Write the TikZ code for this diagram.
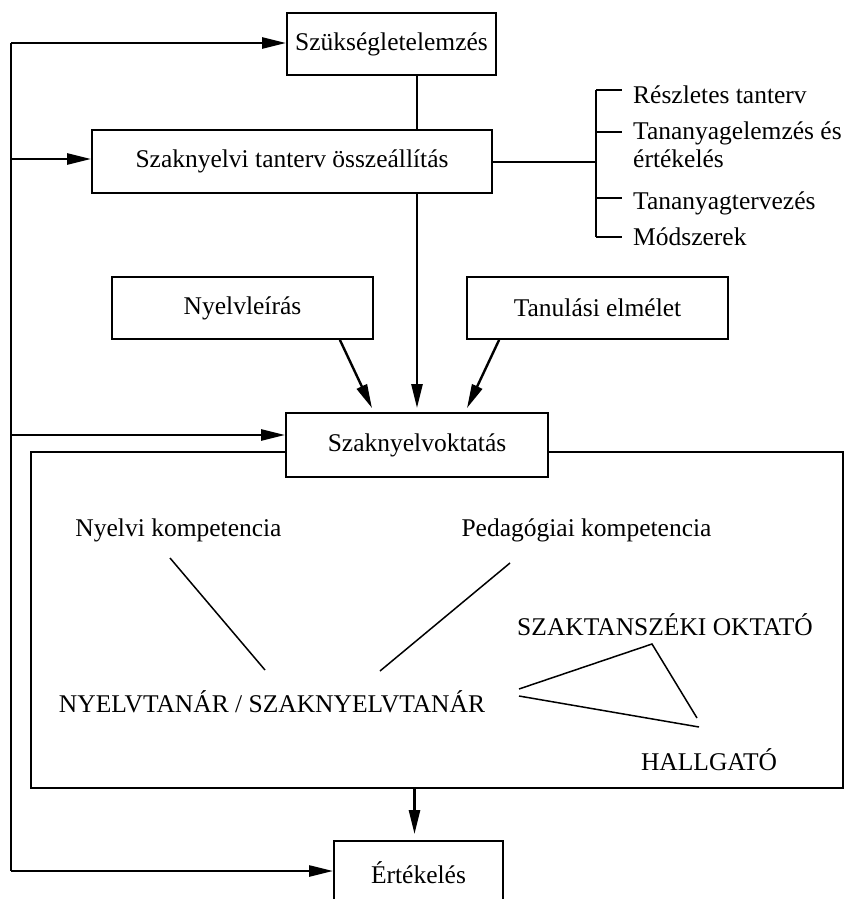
\documentclass[tikz,border=0pt]{standalone}
\usepackage{fontspec}
\setmainfont{Liberation Serif}
\usetikzlibrary{arrows.meta,calc}
\begin{document}
\begin{tikzpicture}[x=1pt,y=-1pt,
  every node/.style={font=\fontsize{25.5}{28}\selectfont, inner sep=0pt},
  boxnode/.style={draw, line width=1.8pt, fill=white, minimum height=62pt},
  arr/.style={line width=2.4pt, -{Triangle[length=24pt,width=11pt]}},
  conn/.style={line width=2.4pt},
  thin/.style={line width=1.5pt},
  brk/.style={line width=1.8pt},
  lbl/.style={anchor=west, align=left}]
\useasboundingbox (0,0) rectangle (850,899);
% frame
\node[draw, line width=1.8pt, minimum width=812pt, minimum height=336pt] (frame) at (437,620) {};
% boxes
\node[boxnode, minimum width=209pt] (szuk) at (391.5,44) {Szükségletelemzés};
\node[boxnode, minimum width=400pt, minimum height=63pt] (tant) at (292,161.5) {Szaknyelvi tanterv összeállítás};
\node[boxnode, minimum width=261pt] (nyl) at (242.5,308) {Nyelvleírás};
\node[boxnode, minimum width=261pt] (tan) at (597.5,308) {Tanulási elmélet};
\node[boxnode, minimum width=262pt, minimum height=64pt] (okt) at (417,445) {Szaknyelvoktatás};
\node[boxnode, minimum width=169pt, minimum height=70pt] (ert) at (418.5,876) {};
\node (ertt) at (418.5,873) {Értékelés};
% left feedback line
\coordinate (l1) at (11,43);
\coordinate (l2) at (11,159);
\coordinate (l3) at (11,435);
\coordinate (l4) at (11,871);
\draw[conn] (l1) -- (l4);
\draw[arr] (l1) -- (szuk.west |- l1);
\draw[arr] (l2) -- (tant.west |- l2);
\draw[arr] (l3) -- (okt.west |- l3);
\draw[arr] (l4) -- (ert.west |- l4);
% vertical flow
\draw[conn] (szuk.south -| okt.north) -- (tant.north -| okt.north);
\draw[arr] (tant.south -| okt.north) -- ($(okt.north)+(0,-4)$);
\draw[arr] ($(nyl.south east)+(-34,0)$) -- ($(okt.north)+(-45,-4)$);
\draw[arr] ($(tan.south west)+(33,0)$) -- ($(okt.north)+(50,-4)$);
\draw[arr] (frame.south -| ert.north) ++(-4,0) coordinate (fb) -- ($(ert.north)+(-4,-6)$);
% right list
\coordinate (bt) at (596,90);
\coordinate (bb) at (596,237);
\coordinate (b1) at (596,132);
\coordinate (b2) at (596,162);
\coordinate (b3) at (596,198);
\draw[brk] (bt) -- (bb);
\draw[brk] (tant.east |- b2) -- (b2);
\node[lbl] (r1) at (633,95) {Részletes tanterv};
\node[lbl, anchor=north west] (r2) at (633,122) {Tananyagelemzés és\\értékelés};
\node[lbl] (r3) at (633,203) {Tananyagtervezés};
\node[lbl] (r4) at (633,237) {Módszerek};
\draw[brk] (bt) -- (622,90);
\draw[brk] (b1) -- (622,132);
\draw[brk] (b3) -- (622,198);
\draw[brk] (bb) -- (622,237);
% inner content
\node (nyk) at (178.5,530) {Nyelvi kompetencia};
\node (ped) at (586.5,530) {Pedagógiai kompetencia};
\node (nyt) at (272,702) {NYELVTANÁR / SZAKNYELVTANÁR};
\node (szo) at (665,625) {SZAKTANSZÉKI OKTATÓ};
\node (hal) at (709,760) {HALLGATÓ};
\coordinate (a1) at (170,558);
\coordinate (a2) at (265,670);
\coordinate (c1) at (510,563);
\coordinate (c2) at (380,671);
\coordinate (t1) at (519,689);
\coordinate (t2) at (652,644);
\coordinate (t3) at (697,718);
\coordinate (t4) at (519,696);
\coordinate (t5) at (699,727);
\draw[thin] (a1) -- (a2);
\draw[thin] (c1) -- (c2);
\draw[thin] (t1) -- (t2) -- (t3);
\draw[thin] (t4) -- (t5);
\end{tikzpicture}
\end{document}
